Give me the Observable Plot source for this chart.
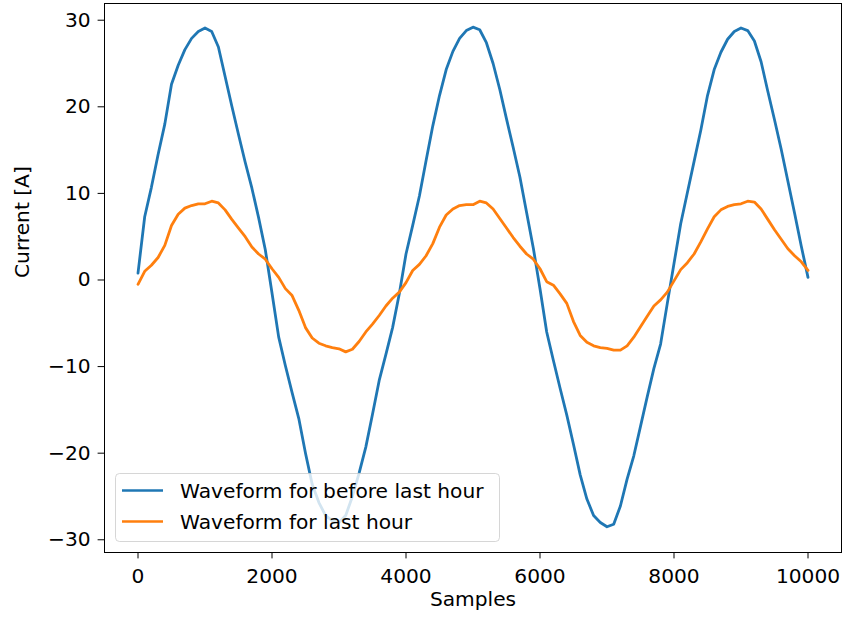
<!DOCTYPE html>
<html><head><meta charset="utf-8">
<script src="https://cdn.jsdelivr.net/npm/d3@7"></script>
<script src="https://cdn.jsdelivr.net/npm/@observablehq/plot@0.6"></script>
<style>body{margin:0;background:#fff;}</style>
</head><body><div id="chart"></div>
<script>
// ---- data ----
const sampleStep = 100; // values below are at samples 0, 100, 200, ... 10000
const blueValues = [
  0.8, 7.3, 10.7, 14.5, 18.0, 22.6, 24.8, 26.6, 27.9, 28.7,
  29.1, 28.7, 26.9, 23.5, 20.1, 16.8, 13.6, 10.6, 7.2, 3.5,
  -1.5, -6.6, -9.9, -13.0, -16.0, -20.0, -23.6, -25.7, -27.2, -27.8,
  -28.0, -27.2, -25.0, -22.3, -19.3, -15.5, -11.6, -8.6, -5.5, -1.6,
  3.0, 6.3, 9.7, 13.8, 17.8, 21.3, 24.3, 26.4, 27.9, 28.8,
  29.2, 28.9, 27.4, 25.0, 22.0, 18.6, 15.3, 11.9, 7.8, 3.7,
  -1.0, -6.0, -9.3, -12.5, -15.6, -19.0, -22.5, -25.3, -27.2, -28.0,
  -28.5, -28.2, -26.1, -23.0, -20.3, -16.9, -13.5, -10.2, -7.4, -2.7,
  1.9, 6.5, 10.1, 13.7, 17.3, 21.3, 24.3, 26.3, 27.8, 28.7,
  29.1, 28.8, 27.6, 25.2, 21.8, 18.5, 15.1, 11.4, 7.7, 3.9,
  0.3
];
const orangeValues = [
  -0.5, 1.0, 1.7, 2.6, 4.0, 6.3, 7.6, 8.3, 8.6, 8.8,
  8.8, 9.1, 8.9, 8.1, 7.0, 6.0, 5.0, 3.8, 3.0, 2.4,
  1.3, 0.3, -1.0, -1.8, -3.5, -5.5, -6.7, -7.3, -7.6, -7.8,
  -7.95, -8.3, -8.0, -7.1, -6.0, -5.1, -4.1, -3.0, -2.1, -1.4,
  -0.3, 1.1, 1.8, 2.8, 4.2, 6.1, 7.5, 8.2, 8.6, 8.7,
  8.7, 9.1, 8.9, 8.2, 7.1, 6.0, 4.9, 3.9, 3.0, 2.4,
  1.3, -0.2, -0.6, -1.6, -2.7, -4.8, -6.4, -7.2, -7.6, -7.8,
  -7.9, -8.1, -8.1, -7.6, -6.6, -5.4, -4.2, -3.0, -2.3, -1.4,
  -0.1, 1.2, 2.0, 3.0, 4.4, 5.9, 7.3, 8.1, 8.5, 8.7,
  8.8, 9.1, 9.0, 8.2, 7.0, 5.8, 4.7, 3.6, 2.8, 2.1,
  1.1
];
const seriesNames = ["Waveform for before last hour", "Waveform for last hour"];
const seriesColors = ["#1f77b4", "#ff7f0e"];
const xTicks = [0, 2000, 4000, 6000, 8000, 10000];
const yTicks = [-30, -20, -10, 0, 10, 20, 30];
const xLabel = "Samples";
const yLabel = "Current [A]";

// ---- table for Plot ----
const rows = [];
blueValues.forEach((v, i) => rows.push({sample: i * sampleStep, value: v, series: seriesNames[0]}));
orangeValues.forEach((v, i) => rows.push({sample: i * sampleStep, value: v, series: seriesNames[1]}));

const fmt = d => String(d).replace("-", "\u2212");
const FONT = 20.2;

const chart = Plot.plot({
  width: 842, height: 619,
  marginLeft: 104, marginRight: 1, marginTop: 3, marginBottom: 67,
  style: {fontFamily: "DejaVu Sans", fontSize: FONT + "px", background: "white", color: "black"},
  x: {domain: [-500, 10500]},
  y: {domain: [-31.47, 31.93]},
  color: {domain: seriesNames, range: seriesColors},
  marks: [
    Plot.line(rows, {x: "sample", y: "value", z: "series", stroke: "series", strokeWidth: 2.8, strokeLinejoin: "round"}),
    Plot.frame({stroke: "black", strokeWidth: 1}),
    Plot.axisX({ticks: xTicks, tickSize: 6.4, tickPadding: 10, tickFormat: fmt, label: null}),
    Plot.axisY({ticks: yTicks, tickSize: 6.4, tickPadding: 7.5, tickFormat: fmt, label: null}),
    Plot.text([xLabel], {frameAnchor: "bottom", dy: 53, text: d => d, fill: "black"}),
    Plot.text([yLabel], {frameAnchor: "left", dx: -81.5, rotate: -90, text: d => d, fill: "black"})
  ]
});
document.getElementById("chart").appendChild(chart);

// ---- legend (matplotlib style, lower left) ----
const svg = d3.select(chart);
const g = svg.append("g")
  .attr("font-family", "DejaVu Sans").attr("font-size", FONT).attr("text-anchor", "start");
g.append("rect")
  .attr("x", 115.5).attr("y", 473.5).attr("width", 384).attr("height", 68).attr("rx", 4)
  .attr("fill", "white").attr("fill-opacity", 0.8)
  .attr("stroke", "#cccccc").attr("stroke-opacity", 0.8);
seriesNames.forEach((name, i) => {
  const y = 490.5 + i * 31;
  g.append("line").attr("x1", 122).attr("x2", 163).attr("y1", y).attr("y2", y)
    .attr("stroke", seriesColors[i]).attr("stroke-width", 2.6);
  g.append("text").attr("x", 180).attr("y", y).attr("dy", "0.36em")
    .attr("text-anchor", "start").attr("fill", "black").text(name);
});
</script>
</body></html>
